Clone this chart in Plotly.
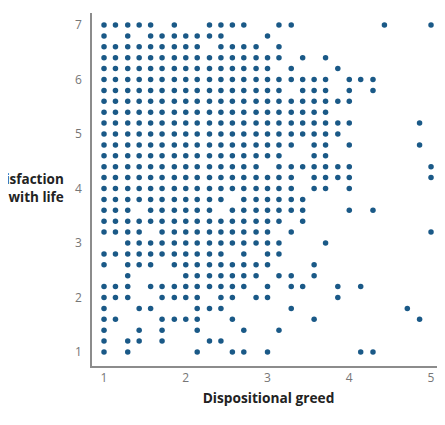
import plotly.graph_objects as go

# greed scores sit on a 1/7 grid, life satisfaction on a 0.2 grid
greed_levels = [1.00, 1.14, 1.29, 1.43, 1.57, 1.71, 1.86, 2.00, 2.14, 2.29,
                2.43, 2.57, 2.71, 2.86, 3.00, 3.14, 3.29, 3.43, 3.57, 3.71,
                3.86, 4.00, 4.14, 4.29, 4.43, 4.57, 4.71, 4.86, 5.00]
life_levels = [7.0, 6.8, 6.6, 6.4, 6.2, 6.0, 5.8, 5.6, 5.4, 5.2, 5.0,
               4.8, 4.6, 4.4, 4.2, 4.0, 3.8, 3.6, 3.4, 3.2, 3.0,
               2.8, 2.6, 2.4, 2.2, 2.0, 1.8, 1.6, 1.4, 1.2, 1.0]

# one row per life level, one char per greed level ('#' = observed)
observed = [
    "#####.#..####..##.......#...#",
    "#.#.#######...#..............",
    "#########.####.#.............",
    "################.#.#.........",
    "###############.#...#........",
    "####################.###.....",
    "################.###.#.#.....",
    "######################.......",
    "####################.........",
    "######################.....#.",
    "#####################........",
    "#################.##.#.....#.",
    "################..##.........",
    "##############.#######......#",
    "#################.####......#",
    "#################.##.#.......",
    "###########.######...........",
    "###.######.#######...#.#.....",
    "################.#...........",
    "####.##########.#...........#",
    "..##############...#.........",
    "###########.#.##.............",
    "#.###.#########...#..........",
    "..#....#######.##.#..........",
    "###.#########.#.##..#.#......",
    "###..####.##.##.....#........",
    "#..##...###.....#.........#..",
    "##...####..#......#........#.",
    "#..#.#..#...#..#.............",
    "#.##.#...##..................",
    "#.#.....#..##.#.......##.....",
]

x_ticks = [1, 2, 3, 4, 5]
y_ticks = [1, 2, 3, 4, 5, 6, 7]

xs, ys = [], []
for life, row in zip(life_levels, observed):
    for greed, mark in zip(greed_levels, row):
        if mark == "#":
            xs.append(greed)
            ys.append(life)

fig = go.Figure(go.Scatter(
    x=xs, y=ys, mode="markers",
    marker=dict(size=5.5, color="#1a5987"),
    hoverinfo="skip",
))

axis_style = dict(
    showgrid=False, zeroline=False, showline=True,
    linecolor="#8c8c8c", linewidth=1.5, ticks="",
    tickfont=dict(family="Open Sans", size=12, color="#767676"),
)
fig.update_xaxes(range=[0.853, 5.171], tickvals=x_ticks, **axis_style,
                 title=dict(text="<b>Dispositional greed</b>", standoff=8,
                            font=dict(family="Open Sans", size=13.7, color="#222")))
fig.update_yaxes(range=[0.743, 7.22], tickvals=y_ticks, ticklabelstandoff=6,
                 **axis_style)

# y title sits horizontally left of the axis and runs off the page edge
fig.add_annotation(
    text="<b>Satisfaction<br>with life</b>", xref="paper", yref="y",
    x=-0.074, y=4, xanchor="right", yanchor="middle", align="right",
    showarrow=False, font=dict(family="Open Sans", size=13.5, color="#222"),
)

# page body adds an 8px offset, so the figure is sized to fit inside it
fig.update_layout(
    width=437, height=417,
    margin=dict(l=84, r=0, t=5, b=59),
    plot_bgcolor="white", paper_bgcolor="white",
    showlegend=False,
)
fig.write_html("out.html")
